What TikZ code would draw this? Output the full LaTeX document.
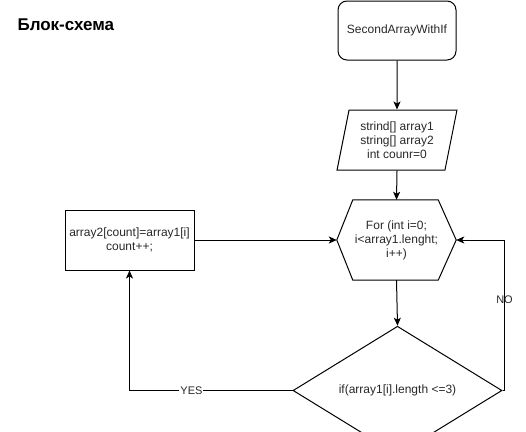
\documentclass[tikz,border=0pt]{standalone}
\usepackage{fontspec}
\setmainfont{Liberation Sans}
\usetikzlibrary{shapes.geometric,arrows.meta,calc}
\definecolor{txt}{RGB}{40,40,40}
\begin{document}
\begin{tikzpicture}[x=1pt,y=1pt,
  every node/.style={font=\fontsize{12}{14}\selectfont, text=txt, align=center},
  box/.style={draw, line width=1pt, inner sep=0pt},
  conn/.style={draw, line width=1pt, -{Stealth[length=8pt,width=7pt,inset=2pt]}},
  lbl/.style={font=\fontsize{11}{13}\selectfont, inner sep=1pt}
]
\useasboundingbox (0,0) rectangle (526,-431);
\node[anchor=west, font=\fontsize{17}{20}\selectfont\bfseries, text=black] (title) at (14,-25) {Блок-схема};
\node[box, rounded corners=9pt, minimum width=118pt, minimum height=59pt] (start) at (397,-30.5) {SecondArrayWithIf};
\node[box, trapezium, trapezium left angle=76, trapezium right angle=104, trapezium stretches=true, minimum width=120pt, minimum height=60pt] (inp) at (397,-140) {strind[] array1\\string[] array2\\int counr=0};
\node[inner sep=0pt, minimum width=119pt, minimum height=80pt] (hex) at (396.5,-240) {For (int i=0;\\i<array1.lenght;\\i++)};
\draw[line width=1pt] (hex.west) -- ($(hex.north west)+(16,0)$) -- ($(hex.north east)+(-18,0)$) -- (hex.east) -- ($(hex.south east)+(-18,0)$) -- ($(hex.south west)+(16,0)$) -- cycle;
\node[box, diamond, minimum width=209pt, minimum height=79pt] (dia) at (397.5,-390.5) {if(array1[i].length <=3)};
\node[box, minimum width=129pt, minimum height=60pt] (act) at (129.5,-240) {array2[count]=array1[i]\\count++;};
\coordinate (nocorner) at (504.5,-240);
\draw[conn] (start.south) -- (inp.north);
\draw[conn] (inp.south) -- (hex.north);
\draw[conn] (hex.south) -- (dia.north);
\draw[conn] (act.east) -- (hex.west);
\draw[conn] (dia.west) -| node[lbl, fill=white, pos=0.31] {YES} (act.south);
\draw[conn] (dia.east) -| node[lbl, pos=0.8] {NO} (nocorner) -- (hex.east);
\end{tikzpicture}
\end{document}
